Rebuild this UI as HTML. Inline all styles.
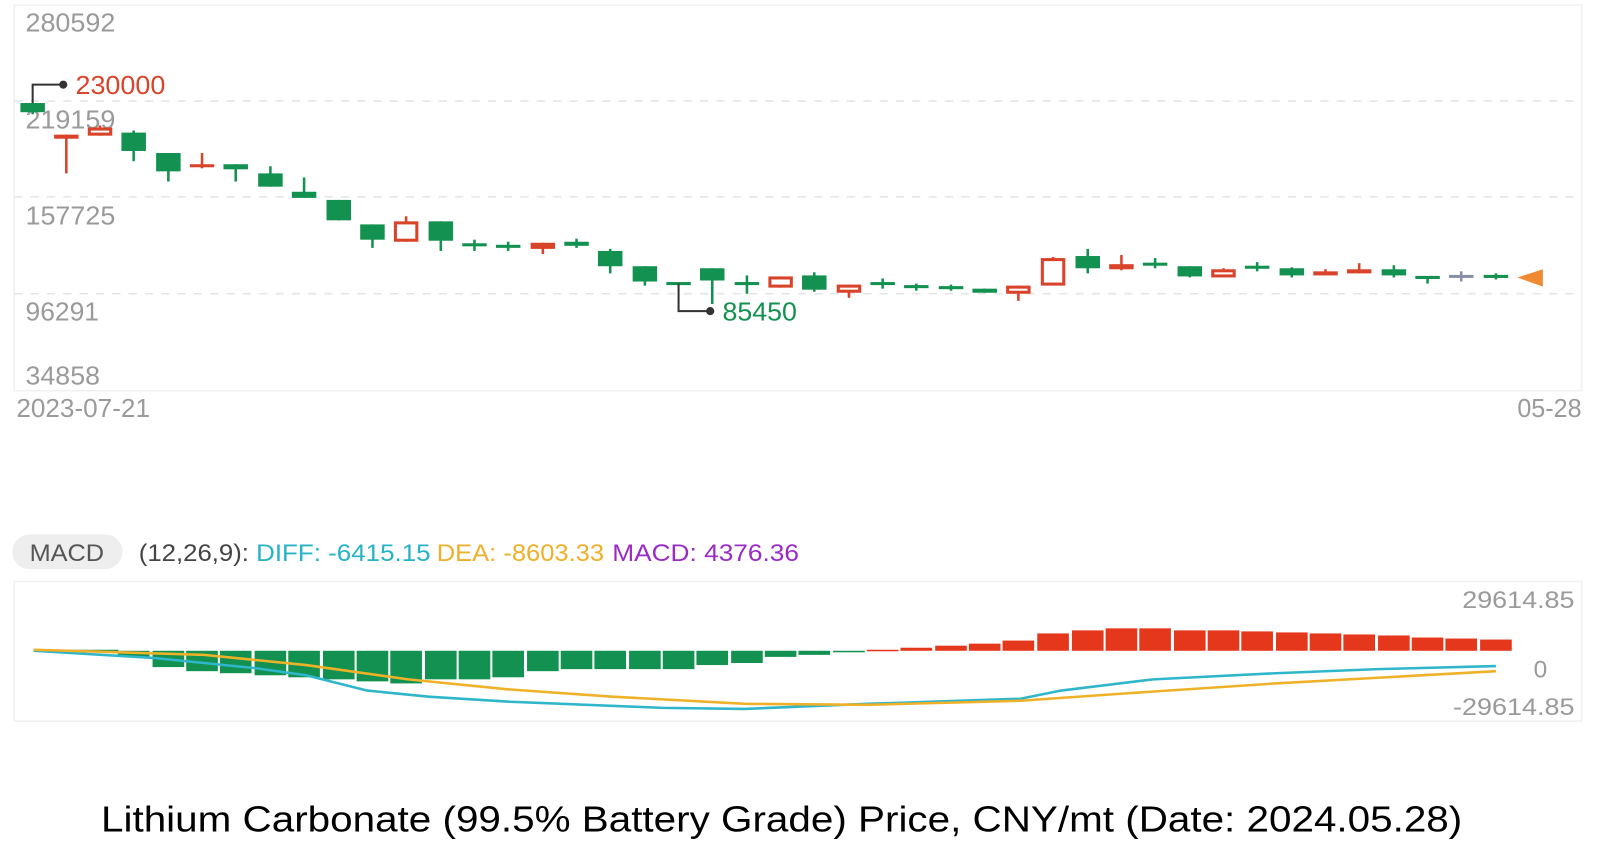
<!DOCTYPE html>
<html><head><meta charset="utf-8"><style>
html,body{margin:0;padding:0;background:#fff;width:1600px;height:866px;overflow:hidden}
svg{display:block}
text{font-family:"Liberation Sans",sans-serif}
</style></head><body>
<svg id="s" width="1600" height="866" viewBox="0 0 1568 849" preserveAspectRatio="none" xmlns="http://www.w3.org/2000/svg">
<rect x="14" y="5" width="1536" height="378" fill="none" stroke="#f0f0f0" stroke-width="1.5"/>
<g stroke="#e4e4e4" stroke-width="1.5" stroke-dasharray="8,8">
<line x1="14" y1="99" x2="1550" y2="99"/><line x1="14" y1="193" x2="1550" y2="193"/><line x1="14" y1="288" x2="1550" y2="288"/>
</g>
<g fill="#9a9a9a" font-size="25">
<text x="25" y="31" textLength="88" lengthAdjust="spacingAndGlyphs">280592</text>
<text x="25" y="126" textLength="88" lengthAdjust="spacingAndGlyphs">219159</text>
<text x="25" y="220" textLength="88" lengthAdjust="spacingAndGlyphs">157725</text>
<text x="25" y="314" textLength="72" lengthAdjust="spacingAndGlyphs">96291</text>
<text x="25" y="377" textLength="73" lengthAdjust="spacingAndGlyphs">34858</text>
<text x="16" y="409" textLength="131" lengthAdjust="spacingAndGlyphs">2023-07-21</text>
<text x="1487" y="409" textLength="63" lengthAdjust="spacingAndGlyphs">05-28</text>
</g>
<g id="candles"></g>
<polyline points="32,101 32,83 62,83" fill="none" stroke="#333" stroke-width="2"/><circle cx="62" cy="83" r="4" fill="#333"/>
<text x="74" y="92" font-size="25" fill="#d9432a" textLength="88" lengthAdjust="spacingAndGlyphs">230000</text>
<polyline points="665,278 665,305 696,305" fill="none" stroke="#333" stroke-width="2"/><circle cx="696" cy="305" r="4" fill="#333"/>
<text x="708" y="314" font-size="25" fill="#139150" textLength="73" lengthAdjust="spacingAndGlyphs">85450</text>
<polygon points="1487,272 1512,264 1512,281" fill="#ef8a30"/>

<rect x="12" y="524" width="108" height="34" rx="17" fill="#eeeeee"/>
<text x="29" y="550" font-size="24" fill="#555" textLength="73" lengthAdjust="spacingAndGlyphs">MACD</text>
<g font-size="24">
<text x="136" y="550" fill="#444" textLength="108" lengthAdjust="spacingAndGlyphs">(12,26,9):</text>
<text x="251" y="550" fill="#26b3c4" textLength="171" lengthAdjust="spacingAndGlyphs">DIFF: -6415.15</text>
<text x="428" y="550" fill="#eeb02a" textLength="164" lengthAdjust="spacingAndGlyphs">DEA: -8603.33</text>
<text x="600" y="550" fill="#9b2bc6" textLength="183" lengthAdjust="spacingAndGlyphs">MACD: 4376.36</text>
</g>
<rect x="14" y="570" width="1536" height="137" fill="none" stroke="#f0f0f0" stroke-width="1.5"/>
<g id="bars"></g>
<polyline fill="none" stroke="#2fb6cb" stroke-width="2.5" points="33,638 150,645 250,655 300,662 360,677 420,683 500,688 650,694 730,695 850,690 1000,685 1040,677 1130,666 1250,660 1350,656 1466,653"/>
<polyline fill="none" stroke="#efb128" stroke-width="2.5" points="33,637 200,642 300,652 400,666 500,676 600,683 730,690 850,691 1000,687 1100,680 1250,670 1466,658"/>
<g fill="#9a9a9a" font-size="24">
<text x="1433" y="596" textLength="110" lengthAdjust="spacingAndGlyphs">29614.85</text>
<text x="1503" y="664">0</text>
<text x="1424" y="701" textLength="119" lengthAdjust="spacingAndGlyphs">-29614.85</text>
</g>
<text x="766" y="815" font-size="35" fill="#000" text-anchor="middle" textLength="1334" lengthAdjust="spacingAndGlyphs">Lithium Carbonate (99.5% Battery Grade) Price, CNY/mt (Date: 2024.05.28)</text>
</svg>
<script>
var G="#139150",R="#d9432a",Y="#8a8fa8";
var c=[[32,101,110,101,112,G,0],[65,132,136,132,170,R,1],[98,125,133,123,133,R,1],[131,130,148,128,158,G,0],[165,150,168,150,178,G,0],[198,161,164,150,165,R,0],[231,161,166,161,178,G,0],[265,170,183,163,183,G,0],[298,188,194,174,194,G,0],[332,196,216,196,216,G,0],[365,220,235,220,243,G,0],[398,217,237,212,237,R,1],[432,217,236,217,246,G,0],[465,240,240,235,246,G,0],[498,240,243,237,246,G,0],[532,238,244,238,249,R,1],[565,237,241,234,243,G,0],[598,246,261,244,268,G,0],[632,261,276,261,280,G,0],[665,278,278,278,278,G,0],[698,263,275,263,298,G,0],[732,278,278,270,288,G,0],[765,271,282,271,282,R,1],[798,270,284,267,286,G,0],[832,279,287,279,292,R,1],[865,278,278,273,283,G,0],[898,281,281,278,285,G,0],[932,282,282,279,285,G,0],[965,283,287,283,287,G,0],[998,280,288,280,295,R,1],[1032,253,280,252,280,R,1],[1066,251,263,244,268,G,0],[1099,259,264,250,265,R,1],[1132,259,259,253,263,G,0],[1166,261,271,261,272,G,0],[1199,264,272,263,272,R,1],[1232,262,262,257,266,G,0],[1266,263,270,262,272,G,0],[1299,266,270,264,270,R,0],[1332,264,268,258,268,R,0],[1366,264,270,260,272,G,0],[1399,272,272,272,278,G,0],[1432,271,271,266,276,Y,0],[1466,271,271,268,274,G,0]];
var h="";
c.forEach(function(d){var x=d[0],w=24;
h+='<line x1="'+x+'" y1="'+d[3]+'" x2="'+x+'" y2="'+d[4]+'" stroke="'+d[5]+'" stroke-width="2.5"/>';
var hh=Math.max(d[2]-d[1],3);
if(d[6]) h+='<rect x="'+(x-w/2+1.5)+'" y="'+(d[1]+1.5)+'" width="'+(w-3)+'" height="'+Math.max(hh-3,1)+'" fill="#fff" stroke="'+d[5]+'" stroke-width="3"/>';
else h+='<rect x="'+(x-w/2)+'" y="'+(d[1]-(d[2]==d[1]?1.5:0))+'" width="'+w+'" height="'+hh+'" fill="'+d[5]+'"/>';
});
document.getElementById("candles").innerHTML=h;
var bv=[-6,-16,-20,-22,-24,-26,-28,-30,-32,-28,-28,-26,-20,-18,-18,-18,-18,-14,-12,-6,-4,-1,1,3,5,7,10,17,20,22,22,20,20,19,18,17,16,15,13,12,11];
var b="";
bv.forEach(function(v,i){var x=c[i+3][0];var y=v<0?638:638-v;var hh=Math.max(Math.abs(v),1.5);
b+='<rect x="'+(x-15.5)+'" y="'+y+'" width="31" height="'+hh+'" fill="'+(v<0?"#139150":"#e5371c")+'"/>';});
b='<line x1="33" y1="638" x2="116" y2="638" stroke="#139150" stroke-width="2"/>'+b;
document.getElementById("bars").innerHTML=b;
</script>
</body></html>
